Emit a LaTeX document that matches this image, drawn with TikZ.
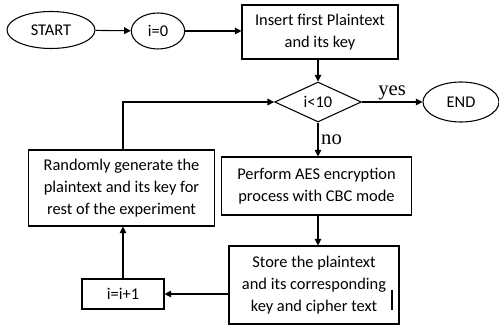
\documentclass[tikz,border=0pt]{standalone}
\usepackage{fontspec}
\setmainfont{Carlito}
\newfontfamily\labelfont{Liberation Serif}
\usetikzlibrary{shapes.geometric,arrows.meta}
\tikzset{
  flowline/.style={line width=0.8pt, -{Triangle[length=5pt,width=5pt]}},
  stepbox/.style={draw, line width=0.8pt, align=center, inner sep=0pt,
    font=\fontsize{12.3}{16.5}\selectfont},
  terminal/.style={draw, ellipse, line width=0.8pt, inner sep=0pt,
    font=\fontsize{12.3}{14}\selectfont},
  decision/.style={draw, diamond, line width=0.8pt, inner sep=0pt,
    font=\fontsize{12.3}{14}\selectfont},
  branch/.style={font=\labelfont\fontsize{15.5}{15.5}\selectfont}
}
\begin{document}
\begin{tikzpicture}[x=0.75pt,y=-0.75pt]
  \useasboundingbox (0,0) rectangle (499,327);
  \node[terminal, minimum width=66pt, minimum height=27.75pt] (start) at (51,30) {START};
  \node[terminal, minimum width=40pt, minimum height=27pt] (init) at (158,31) {i=0};
  \node[stepbox, minimum width=117pt, minimum height=40.5pt] (insert) at (320,32) {Insert first Plaintext\\and its key};
  \node[decision, minimum width=65pt, minimum height=29pt] (test) at (318,102) {i<10};
  \node[terminal, minimum width=57pt, minimum height=30pt] (end) at (461,102) {END};
  \node[stepbox, minimum width=140pt, minimum height=57pt] (random) at (121.5,188) {Randomly generate the\\plaintext and its key for\\rest of the experiment};
  \node[stepbox, minimum width=143pt, minimum height=43.5pt] (encrypt) at (316.5,186) {Perform AES encryption\\process with CBC mode};
  \node[stepbox, minimum width=127.5pt, minimum height=58.5pt] (store) at (314,285) {Store the plaintext\\and its corresponding\\key and cipher text};
  \node[stepbox, minimum width=61.5pt, minimum height=22.5pt] (incr) at (123,294) {i=i+1};

  \draw[flowline] (start) -- (init);
  \draw[flowline] (init.east) -- (init.east -| insert.west);
  \draw[flowline] (test.north |- insert.south) -- (test.north);
  \draw[flowline] (test) -- (end) node[midway,above,inner sep=1pt,branch] {yes};
  \draw[flowline] (test.south) -- (test.south |- encrypt.north) node[midway,right,inner sep=2pt,branch] {no};
  \draw[flowline] (test.south |- encrypt.south) -- (test.south |- store.north);
  \draw[flowline] (store.west |- incr.east) -- (incr.east);
  \draw[flowline] (incr.north) -- (incr.north |- random.south);
  \draw[flowline] (incr.north |- random.north) |- (test.west);

  % cursor mark in the last box
  \draw[line width=1.2pt] (392,290) -- (392,310);
\end{tikzpicture}
\end{document}
